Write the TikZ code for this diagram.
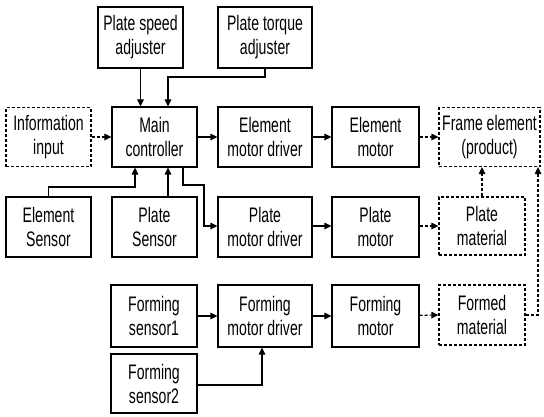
\documentclass[tikz,border=0pt]{standalone}
\usepackage{fontspec}
\setmainfont{Liberation Sans}[FakeStretch=0.67]
\usetikzlibrary{arrows.meta}
\begin{document}
\begin{tikzpicture}[x=1pt,y=-1pt,
  box/.style={draw,line width=1.2pt,align=center,inner sep=0pt,
    font=\fontsize{21}{24}\selectfont},
  dbox/.style={box,dash pattern=on 3pt off 2pt},
  arr/.style={line width=1.2pt,-{Triangle[length=7pt,width=6.5pt]}},
  darr/.style={arr,dash pattern=on 3pt off 2pt}]
\useasboundingbox (0,0) rectangle (544,416);
% top row
\node[box,minimum width=85pt,minimum height=61pt] (psa) at (140.5,37.5) {Plate speed\\adjuster};
\node[box,minimum width=94pt,minimum height=61pt] (pta) at (265,37.5) {Plate torque\\adjuster};
% row 1
\node[dbox,minimum width=85pt,minimum height=59pt] (info) at (48.5,137) {Information\\input};
\node[box,minimum width=85pt,minimum height=60pt] (main) at (154.5,137) {Main\\controller};
\node[box,minimum width=94pt,minimum height=60pt] (emd) at (265,137) {Element\\motor driver};
\node[box,minimum width=87pt,minimum height=60pt] (em) at (375.5,137) {Element\\motor};
\node[dbox,minimum width=101pt,minimum height=59pt] (frame) at (489.5,137) {Frame element\\(product)};
% row 2
\node[box,minimum width=85pt,minimum height=60pt] (es) at (48.5,227) {Element\\Sensor};
\node[box,minimum width=85pt,minimum height=60pt] (ps) at (154.5,227) {Plate\\Sensor};
\node[box,minimum width=94pt,minimum height=60pt] (pmd) at (265,227) {Plate\\motor driver};
\node[box,minimum width=87pt,minimum height=60pt] (pm) at (375.5,227) {Plate\\motor};
\node[dbox,minimum width=86pt,minimum height=58pt] (pmat) at (482,226) {Plate\\material};
% row 3
\node[box,minimum width=86pt,minimum height=62pt] (fs1) at (154,316) {Forming\\sensor1};
\node[box,minimum width=94pt,minimum height=62pt] (fmd) at (265,316) {Forming\\motor driver};
\node[box,minimum width=87pt,minimum height=62pt] (fm) at (375.5,316) {Forming\\motor};
\node[dbox,minimum width=86pt,minimum height=60pt] (fmat) at (482,315) {Formed\\material};
% row 4
\node[box,minimum width=86pt,minimum height=59pt] (fs2) at (154,383.5) {Forming\\sensor2};
% connectors
\draw[arr] (psa.south) -- (main.north -| psa.south);
\draw[arr] (pta.south) |- (168,77) -- (main.north -| 168,0);
\draw[darr] (info) -- (main);
\draw[arr] (main) -- (emd);
\draw[arr] (emd) -- (em);
\draw[darr] (em) -- (frame);
\draw[arr] (es.north) |- (135,187) -- (main.south -| 135,0);
\draw[arr] (ps.north -| 168,0) -- (main.south -| 168,0);
\draw[arr] (main.south -| 183,0) |- (204,185) |- (pmd.west |- 0,226);
\draw[arr] (pmd.east |- 0,226) -- (pm.west |- 0,226);
\draw[darr] (pm.east |- 0,226) -- (pmat.west);
\draw[darr] (pmat.north) -- (frame.south -| pmat.north);
\draw[darr] (fmat.east) -| (frame.south -| 538,0);
\draw[arr] (fs1) -- (fmd);
\draw[arr] (fmd) -- (fm);
\draw[darr] (fm) -- (fmat.west);
\draw[arr] (fs2.east |- 0,385) -| (fmd.south -| 262,0);
\end{tikzpicture}
\end{document}
